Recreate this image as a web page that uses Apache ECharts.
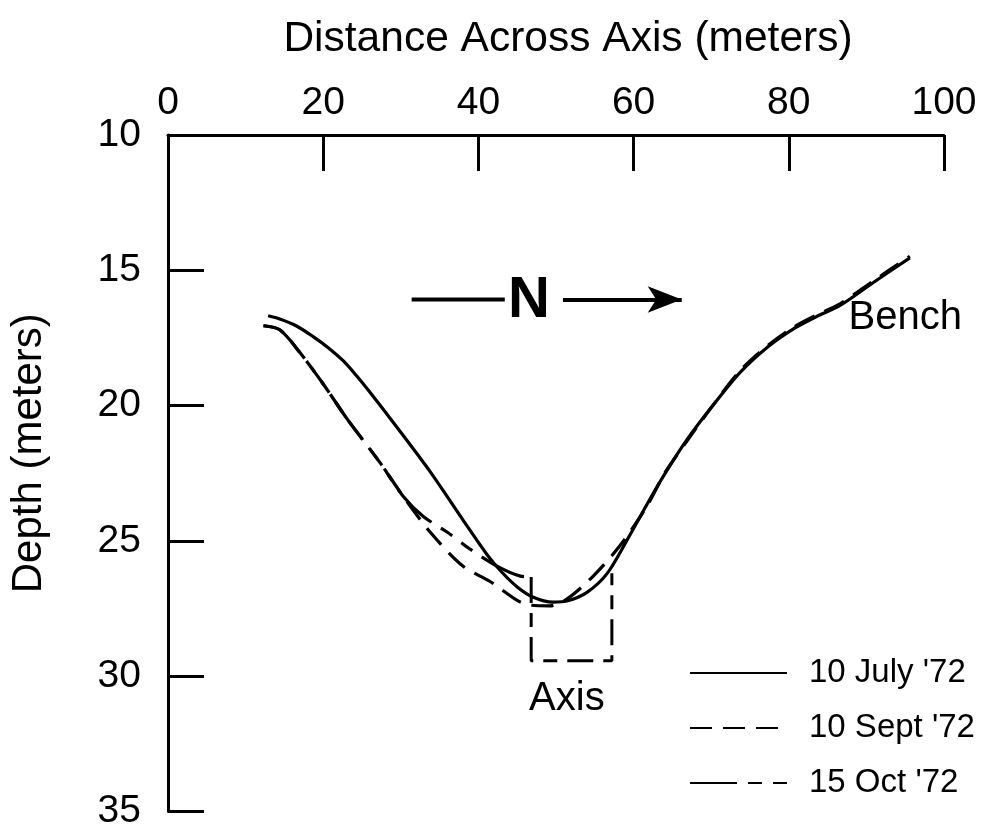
<!DOCTYPE html>
<html>
<head>
<meta charset="utf-8">
<script src="https://cdn.jsdelivr.net/npm/echarts@6/dist/echarts.min.js"></script>
<style>
html,body{margin:0;padding:0;background:#fff;}
#chart{width:984px;height:831px;}
</style>
</head>
<body>
<div id="chart"></div>
<script>
// ---- data (x = distance across axis, m; d = depth, m) ----
const xTickValues = [0, 20, 40, 60, 80, 100];
const yTickValues = [10, 15, 20, 25, 30, 35];

const julyX = [12.9, 14.4, 16.5, 18.7, 20.6, 22.6, 24.3, 26.0, 29.5, 33.8, 38.0, 41.1, 43.0, 45.0, 47.0, 49.6, 51.4, 54.0, 56.6, 59.1, 62.1, 64.4, 66.9, 70.2, 73.7, 77.2, 80.5, 83.5, 86.6, 90.9, 95.6];
const julyD = [16.68, 16.8, 17.05, 17.45, 17.85, 18.35, 18.9, 19.5, 20.8, 22.45, 24.22, 25.5, 26.15, 26.7, 27.07, 27.26, 27.22, 26.9, 26.2, 25.0, 23.46, 22.35, 21.25, 20.0, 18.78, 17.85, 17.18, 16.72, 16.3, 15.45, 14.54];

const septX = [12.3, 14.4, 17.0, 20.0, 23.1, 27.3, 30.3, 33.8, 38.0, 41.5, 45.0, 46.6, 49.2, 51.4, 54.8, 58.2, 61.7, 64.0, 66.9, 70.2, 73.7, 77.2, 80.5, 83.5, 86.6, 90.9, 95.6];
const septD = [17.05, 17.2, 18.04, 19.2, 20.5, 22.1, 23.35, 24.68, 25.93, 26.5, 27.2, 27.37, 27.4, 27.15, 26.3, 25.19, 23.72, 22.5, 21.3, 20.0, 18.72, 17.8, 17.12, 16.66, 16.24, 15.39, 14.48];

const octX = [12.3, 14.4, 17.0, 20.0, 23.1, 27.3, 30.3, 32.9, 36.0, 38.9, 42.4, 45.4, 46.8];
const octD = [17.05, 17.2, 18.04, 19.2, 20.5, 22.1, 23.35, 24.1, 24.68, 25.3, 25.93, 26.3, 26.33];

// dashed "Axis" box
const boxX = [46.8, 46.8, 57.2, 57.2];
const boxD = [26.33, 29.43, 29.43, 26.2];

// north arrow
const arrowD = 16.08;
const arrowLeftX = [31.4, 43.4];
const arrowRightX = [50.9, 66.2];

// text annotations
const noteText = ['N', 'Bench', 'Axis'];
const noteX = [46.5, 95.0, 51.4];
const noteD = [16.12, 16.78, 30.83];

const seriesNames = ["10 July '72", "10 Sept '72", "15 Oct '72"];

// ---- build ----
const zip = (xs, ys) => xs.map((x, i) => [x, ys[i]]);
const FONT = '"Liberation Sans", Arial, Helvetica, sans-serif';
const BLACK = '#000';

const chart = echarts.init(document.getElementById('chart'), null, {renderer: 'canvas'});

const option = {
  backgroundColor: '#fff',
  animation: false,
  textStyle: {fontFamily: FONT, color: BLACK},
  grid: {left: 168, right: 40, top: 135, bottom: 18, containLabel: false},
  legend: {
    orient: 'vertical',
    left: 689,
    top: 655,
    padding: 0,
    itemWidth: 97,
    itemHeight: 14,
    itemGap: 19,
    data: seriesNames,
    itemStyle: {opacity: 0},
    textStyle: {fontFamily: FONT, fontSize: 33, color: BLACK, lineHeight: 36, padding: [0, 0, 0, 17]},
    selectedMode: false
  },
  xAxis: {
    type: 'value',
    position: 'top',
    min: xTickValues[0],
    max: xTickValues[xTickValues.length - 1],
    interval: xTickValues[1] - xTickValues[0],
    name: 'Distance Across Axis (meters)',
    nameLocation: 'middle',
    nameGap: 74,
    nameTextStyle: {fontFamily: FONT, fontSize: 42.5, color: BLACK, padding: [0, 0, 0, 24]},
    axisLine: {show: true, lineStyle: {color: BLACK, width: 3}},
    axisTick: {show: true, inside: true, length: 36, lineStyle: {color: BLACK, width: 3}},
    axisLabel: {fontFamily: FONT, fontSize: 39, color: BLACK, margin: 12},
    splitLine: {show: false}
  },
  yAxis: {
    type: 'value',
    inverse: true,
    min: yTickValues[0],
    max: yTickValues[yTickValues.length - 1],
    interval: yTickValues[1] - yTickValues[0],
    name: 'Depth (meters)',
    nameLocation: 'middle',
    nameRotate: 90,
    nameGap: 118,
    nameTextStyle: {fontFamily: FONT, fontSize: 42, color: BLACK, padding: [0, 0, 0, 40]},
    axisLine: {show: true, lineStyle: {color: BLACK, width: 3}},
    axisTick: {show: true, inside: true, length: 36, lineStyle: {color: BLACK, width: 3}},
    axisLabel: {fontFamily: FONT, fontSize: 39, color: BLACK, margin: 27},
    splitLine: {show: false}
  },
  series: [
    {
      name: seriesNames[0], type: 'line', data: zip(julyX, julyD),
      smooth: 0.3, symbol: 'none', showSymbol: false,
      lineStyle: {color: BLACK, width: 3.2, type: 'solid'}, itemStyle: {color: BLACK}, z: 3
    },
    {
      name: seriesNames[1], type: 'line', data: zip(septX, septD),
      smooth: 0.3, symbol: 'none', showSymbol: false,
      lineStyle: {color: BLACK, width: 3.2, type: [22, 11]}, itemStyle: {color: BLACK}, z: 3
    },
    {
      name: seriesNames[2], type: 'line', data: zip(octX, octD),
      smooth: 0.3, symbol: 'none', showSymbol: false,
      lineStyle: {color: BLACK, width: 3.2, type: [47, 11, 14, 11, 14, 11]}, itemStyle: {color: BLACK}, z: 3
    },
    {
      name: 'axisBox', type: 'line', data: zip(boxX, boxD),
      smooth: false, symbol: 'none', showSymbol: false,
      lineStyle: {color: BLACK, width: 3, type: [26, 10, 14, 10]}, z: 3
    },
    {
      name: 'arrowLeft', type: 'line', data: arrowLeftX.map(x => [x, arrowD]),
      symbol: 'none', showSymbol: false,
      lineStyle: {color: BLACK, width: 4}, z: 3
    },
    {
      name: 'arrowRight', type: 'line', data: [],
      symbol: 'none',
      markLine: {
        silent: true, animation: false,
        symbol: ['none', 'arrow'], symbolSize: [20, 34],
        label: {show: false},
        lineStyle: {color: BLACK, width: 4, type: 'solid'},
        data: [[{coord: [arrowRightX[0], arrowD]}, {coord: [arrowRightX[1], arrowD]}]]
      },
      z: 3
    },
    {
      name: 'notes', type: 'scatter', symbolSize: 0,
      itemStyle: {opacity: 1},
      data: noteText.map((t, i) => ({
        value: [noteX[i], noteD[i]], name: t,
        label: (t === 'N') ? {fontSize: 58, fontWeight: 'bold'} : {fontSize: 40}
      })),
      label: {show: true, position: 'inside', formatter: p => p.name, color: BLACK, fontFamily: FONT, opacity: 1},
      z: 4
    }
  ]
};
chart.setOption(option);
</script>
</body>
</html>
